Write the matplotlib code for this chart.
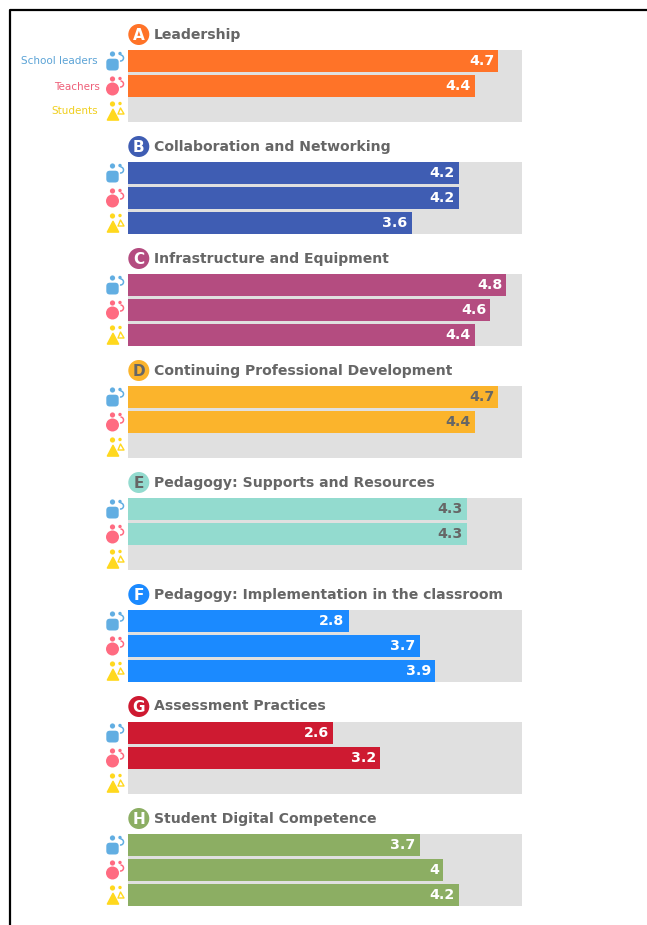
import numpy as np
import matplotlib
matplotlib.use('Agg')
import matplotlib.pyplot as plt
from matplotlib.patches import Circle, Polygon, FancyBboxPatch, Arc, Rectangle

W, H = 647, 925

# data
letters = ['A', 'B', 'C', 'D', 'E', 'F', 'G', 'H']
titles = ['Leadership', 'Collaboration and Networking', 'Infrastructure and Equipment',
          'Continuing Professional Development', 'Pedagogy: Supports and Resources',
          'Pedagogy: Implementation in the classroom', 'Assessment Practices',
          'Student Digital Competence']
school_leaders = [4.7, 4.2, 4.8, 4.7, 4.3, 2.8, 2.6, 3.7]
teachers = [4.4, 4.2, 4.6, 4.4, 4.3, 3.7, 3.2, 4.0]
students = [None, 3.6, 4.4, None, None, 3.9, None, 4.2]
colors = ['#FF7328', '#3F5DB3', '#B44C80', '#FBB42C', '#93DBCF', '#1B8AFF', '#CE1A31', '#8CAE63']
value_colors = ['white', 'white', 'white', '#666666', '#666666', 'white', 'white', 'white']
groups = ['School leaders', 'Teachers', 'Students']
group_colors = ['#62AEE2', '#FF6B81', '#FFD81E']
max_score = 5

fig = plt.figure(figsize=(W / 100, H / 100), dpi=100, facecolor='white')

# overlay in pixel coordinates, for frame, icons and headings
bg = fig.add_axes([0, 0, 1, 1])
bg.set_xlim(0, W)
bg.set_ylim(H, 0)
bg.axis('off')
bg.plot([9.5, 9.5, W], [H, 9.5, 9.5], color='black', lw=1.6, solid_capstyle='butt')


def draw_icon(kind, color, top):
    # top = top pixel of the row the icon sits beside
    bg.add_patch(Circle((112.5, top + 4), 2.6, color=color, lw=0))
    bg.add_patch(Circle((120, top + 3.5), 1.7, color=color, lw=0))
    if kind == 0:
        bg.add_patch(FancyBboxPatch((106.3, top + 8.7), 12.4, 11.8, boxstyle='round,pad=0,rounding_size=3.5',
                                    mutation_aspect=1, fc=color, ec='none', lw=0))
        bg.add_patch(Arc((120.5, top + 8), 6, 6, theta1=-90, theta2=100, color=color, lw=1.1))
    elif kind == 1:
        bg.add_patch(Circle((112.5, top + 14), 6.5, color=color, lw=0))
        bg.add_patch(Arc((120.5, top + 9), 6, 6, theta1=-90, theta2=100, color=color, lw=1.1))
    else:
        bg.add_patch(Polygon([[113, top + 9.5], [118.5, top + 20], [107.5, top + 20]], closed=True,
                             fc=color, ec=color, lw=1.2, joinstyle='round'))
        bg.add_patch(Polygon([[120.5, top + 8], [124, top + 14], [118, top + 14]], closed=True,
                             fc='none', ec=color, lw=1, joinstyle='round'))


for i in range(len(letters)):
    top = 50 + 112 * i
    ax = fig.add_axes([128 / W, 1 - (top + 72) / H, 394 / W, 72 / H])
    ax.set_xlim(0, max_score)
    ax.set_ylim(2.88, 0)
    ax.axis('off')
    ax.add_patch(Rectangle((0, 0), 1, 1, transform=ax.transAxes, fc='#E0E0E0', lw=0, zorder=0))
    vals = [school_leaders[i], teachers[i], students[i]]
    for j, v in enumerate(vals):
        if v is None:
            continue
        ax.barh(j, v, height=0.88, align='edge', color=colors[i], zorder=2)
        ax.annotate('%g' % v, (v, j + 0.44), xytext=(-3, 0), textcoords='offset points',
                    ha='right', va='center', color=value_colors[i], fontsize=10.2, fontweight='bold', zorder=3)

    # heading with the letter badge
    bg.add_patch(Circle((138.8, top - 15.5), 10.5, color=colors[i], lw=0))
    bg.text(138.8, top - 15, letters[i], color='white' if value_colors[i] == 'white' else '#666666',
            fontsize=11, fontweight='bold', ha='center', va='center')
    bg.text(153.5, top - 15.5, titles[i], color='#666666', fontsize=10.1, fontweight='bold',
            ha='left', va='center')

    for j in range(3):
        draw_icon(j, group_colors[j], top + 25 * j)

# group labels only next to the first panel
bg.text(98, 61, groups[0], color='#5BA3D6', fontsize=7.5, ha='right', va='center')
bg.text(100, 86.5, groups[1], color='#EE5F78', fontsize=7.5, ha='right', va='center')
bg.text(98, 111.5, groups[2], color='#F0CF1F', fontsize=7.5, ha='right', va='center')

fig.savefig('out.png', dpi=100)
